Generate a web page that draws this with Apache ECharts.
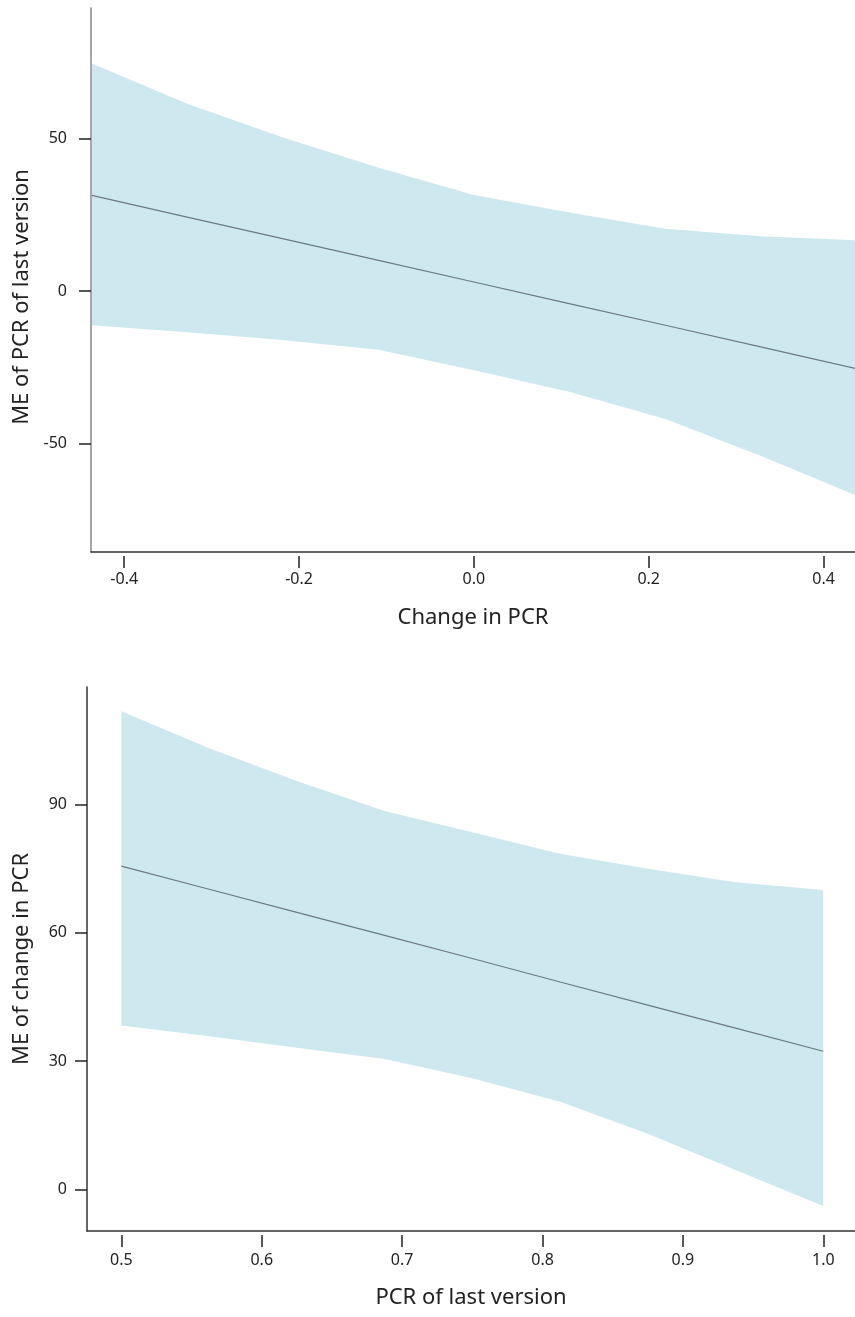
<!DOCTYPE html>
<html>
<head>
<meta charset="utf-8">
<script src="https://cdn.jsdelivr.net/npm/echarts@6/dist/echarts.min.js"></script>
<style>
  html, body { margin: 0; padding: 0; background: #fff; }
  #chart { width: 855px; height: 1317px; }
</style>
</head>
<body>
<div id="chart"></div>
<script>
// top panel: marginal effect of PCR of last version over change in PCR
const topX = [-0.437, -0.328, -0.219, -0.109, 0, 0.109, 0.219, 0.328, 0.437];
const topFit = [31.4, 24.3, 17.2, 10.1, 3.0, -4.1, -11.2, -18.3, -25.4];
const topHi = [74.7, 61.5, 50.5, 40.5, 31.5, 25.8, 20.5, 18.0, 16.7];
const topLo = [-11.2, -13.5, -16.0, -19.2, -26.0, -33.0, -42.0, -54.0, -67.0];
const topXTicks = [-0.4, -0.2, 0, 0.2, 0.4];
const topYTicks = [-50, 0, 50];

// bottom panel: marginal effect of change in PCR over PCR of last version
const botX = [0.5, 0.5625, 0.625, 0.6875, 0.75, 0.8125, 0.875, 0.9375, 1.0];
const botFit = [75.6, 70.2, 64.8, 59.4, 54.0, 48.5, 43.1, 37.7, 32.3];
const botHi = [111.8, 103.2, 95.5, 88.5, 83.5, 78.5, 75.0, 71.8, 70.0];
const botLo = [38.3, 35.8, 33.1, 30.5, 26.0, 20.5, 13.0, 4.5, -3.9];
const botXTicks = [0.5, 0.6, 0.7, 0.8, 0.9, 1.0];
const botYTicks = [0, 30, 60, 90];

const font = "Noto Sans";
const bandColor = "rgba(173,216,230,0.6)";
const fitColor = "#6b7a80";

function band(xs, lo, hi, idx) {
  return {
    type: "custom",
    xAxisIndex: idx * 2,
    yAxisIndex: idx,
    clip: true,
    silent: true,
    data: [0],
    renderItem: function (params, api) {
      const pts = [];
      for (let i = 0; i < xs.length; i++) pts.push(api.coord([xs[i], hi[i]]));
      for (let i = xs.length - 1; i >= 0; i--) pts.push(api.coord([xs[i], lo[i]]));
      return { type: "polygon", shape: { points: pts }, style: { fill: bandColor } };
    },
  };
}

function line(xs, ys, idx) {
  return {
    type: "line",
    xAxisIndex: idx * 2,
    yAxisIndex: idx,
    data: xs.map((x, i) => [x, ys[i]]),
    showSymbol: false,
    lineStyle: { color: fitColor, width: 1.2 },
    silent: true,
  };
}

// two x axes per panel: one draws the line, the other the detached ticks
function xAxes(grid, min, max, ticks, name, gap, margin) {
  return [
    {
      type: "value", gridIndex: grid, min: min, max: max,
      axisLine: { show: true, onZero: false, lineStyle: { color: "#333", width: 1.5 } },
      axisTick: { show: false }, axisLabel: { show: false }, splitLine: { show: false },
      name: name, nameLocation: "middle", nameGap: gap,
      nameTextStyle: { fontFamily: font, fontSize: 22, color: "#222" },
    },
    {
      type: "value", gridIndex: grid, min: min, max: max, position: "bottom", offset: 4,
      axisLine: { show: false, onZero: false },
      axisTick: { show: true, length: 12, customValues: ticks, lineStyle: { color: "#222", width: 1.5 } },
      axisLabel: {
        show: true, customValues: ticks, margin: margin,
        fontFamily: font, fontSize: 16, color: "#222",
        formatter: (v) => v.toFixed(1),
      },
      splitLine: { show: false },
    },
  ];
}

function yAxis(grid, min, max, ticks, name, gap, margin, lineColor, namePad) {
  return {
    type: "value", gridIndex: grid, min: min, max: max,
    axisLine: { show: true, onZero: false, lineStyle: { color: lineColor, width: 1.5 } },
    axisTick: { show: true, length: 12, customValues: ticks, lineStyle: { color: "#222", width: 1.5 } },
    axisLabel: { show: true, customValues: ticks, margin: margin, fontFamily: font, fontSize: 16, color: "#222" },
    splitLine: { show: false },
    name: name, nameLocation: "middle", nameGap: gap,
    nameTextStyle: { fontFamily: font, fontSize: 22, color: "#222", padding: namePad },
  };
}

const chart = echarts.init(document.getElementById("chart"));
chart.setOption({
  animation: false,
  backgroundColor: "#fff",
  grid: [
    { left: 91, top: 8, right: 0, bottom: 765 },
    { left: 87, top: 687, right: 0, bottom: 86 },
  ],
  xAxis: [
    ...xAxes(0, -0.438, 0.436, topXTicks, "Change in PCR", 55, 15),
    ...xAxes(1, 0.4755, 1.0226, botXTicks, "PCR of last version", 56, 17),
  ],
  yAxis: [
    yAxis(0, -85.6, 92.9, topYTicks, "ME of PCR of last version", 56, 24, "#888", [0, 34, 0, 0]),
    yAxis(1, -9.75, 117.5, botYTicks, "ME of change in PCR", 54, 20, "#333", 0),
  ],
  series: [
    band(topX, topLo, topHi, 0),
    line(topX, topFit, 0),
    band(botX, botLo, botHi, 1),
    line(botX, botFit, 1),
  ],
});
</script>
</body>
</html>
